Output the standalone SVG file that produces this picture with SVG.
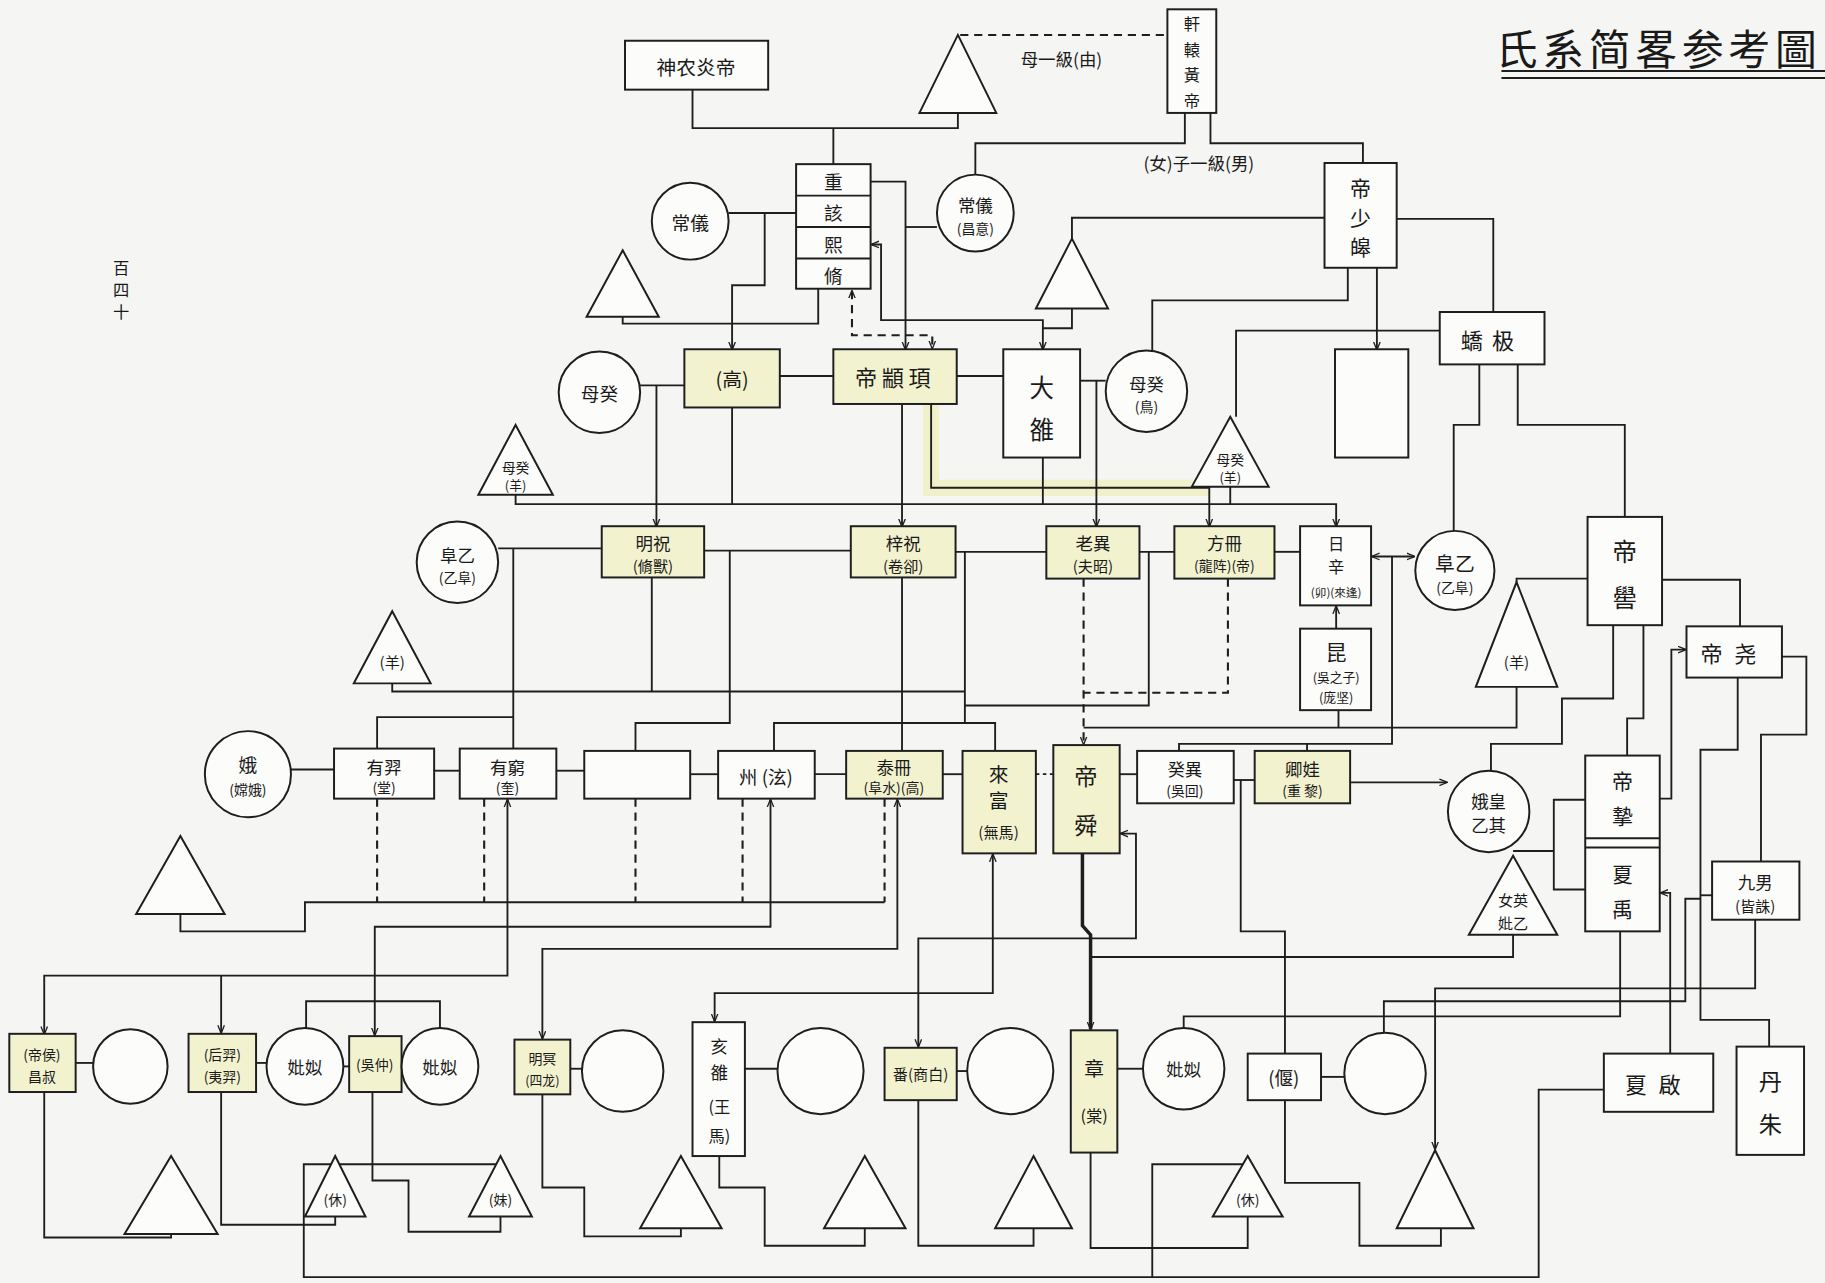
<svg xmlns="http://www.w3.org/2000/svg" width="1825" height="1283" viewBox="0 0 1825 1283">
<defs>
<style>
.b{fill:#fcfcfa;stroke:#1e1e1e;stroke-width:1.7}
.y{fill:#f3f2cf;stroke:#1e1e1e;stroke-width:1.7}
.c{fill:none;stroke:#1e1e1e;stroke-width:1.6}
.d{fill:none;stroke:#1e1e1e;stroke-width:1.8;stroke-dasharray:7 5}
.t{font-family:"Noto Sans CJK TC","Noto Sans CJK SC",sans-serif;fill:#1a1a1a;text-anchor:middle;dominant-baseline:central}
</style>
<marker id="a" viewBox="0 0 10 10" refX="9" refY="5" markerWidth="7" markerHeight="7" orient="auto-start-reverse" markerUnits="userSpaceOnUse"><path d="M0,1 L10,5 L0,9" fill="none" stroke="#1e1e1e" stroke-width="1.6"/></marker>
</defs>
<rect width="1825" height="1283" fill="#f5f5f3"/>
<g transform="scale(1.1639,1.1642)">
<g id="connectors">
<path class="c" d="M595,77 V110 H823 V97"/>
<path class="c" d="M716,110 V141"/>
<path class="d" d="M825,30 H1003"/>
<path class="c" d="M1018,97 V123 H838 V150"/>
<path class="c" d="M1040,97 V123 H1171 V140"/>
<path class="c" d="M626,183 H684"/>
<path class="c" d="M657,183 V245 H629 V300" marker-end="url(#a)"/>
<path class="c" d="M703,248 V278 H535 V272"/>
<path class="c" d="M748,156 H778 V300" marker-end="url(#a)"/>
<path class="c" d="M805,195 H778"/>
<path class="d" d="M732,250 V288 H801 V299" marker-start="url(#a)" marker-end="url(#a)"/>
<path class="c" d="M749,210 H757 V275 H896 V300" marker-start="url(#a)" marker-end="url(#a)"/>
<path class="c" d="M921,265 V282 H896"/>
<path class="c" d="M1138,187 H921 V205"/>
<path class="c" d="M1158,230 V258 H990 V301"/>
<path class="c" d="M1183,230 V300" marker-end="url(#a)"/>
<path class="c" d="M1237,284 H1062 V358"/>
<path class="c" d="M1200,188 H1283 V268"/>
<path class="c" d="M1271,313 V365 H1249 V456"/>
<path class="c" d="M1304,313 V365 H1396 V444"/>
<path class="c" d="M550,331 H588"/>
<path class="c" d="M564,331 V452" marker-end="url(#a)"/>
<path class="c" d="M670,323 H716"/>
<path class="c" d="M822,323 H862"/>
<path class="c" d="M928,327 H950"/>
<path d="M800,347 V419 H1039" fill="none" stroke="#eef0b8" stroke-width="14" opacity="0.7"/>
<path class="c" d="M942,327 V452" marker-end="url(#a)"/>
<path class="c" d="M629,350 V433"/>
<path class="c" d="M443,425 V433 H1148 V452" marker-end="url(#a)"/>
<path class="c" d="M775,347 V452" marker-end="url(#a)"/>
<path class="c" d="M800,347 V419 H1039 V452" marker-end="url(#a)"/>
<path class="c" d="M896,393 V433"/>
<path class="c" d="M1057,418 V433"/>
<path class="c" d="M1148,540 V521" marker-end="url(#a)"/>
<path class="c" d="M1179,478 H1215" marker-start="url(#a)" marker-end="url(#a)"/>
<path class="c" d="M1196,478 V639 H1013 V645"/>
<path class="c" d="M1123,639 V645"/>
<path class="c" d="M1364,497 H1303 V500"/>
<path class="c" d="M1428,498 H1495 V538"/>
<path class="c" d="M1386,537 V600 H1342 V639 H1281 V662"/>
<path class="c" d="M1412,537 V617 H1398 V649"/>
<path class="c" d="M428,471 H517"/>
<path class="c" d="M441,471 V643"/>
<path class="c" d="M605,473 H731"/>
<path class="c" d="M627,473 V621 H546 V645"/>
<path class="c" d="M821,474 H899"/>
<path class="c" d="M829,474 V621"/>
<path class="c" d="M979,474 H1009"/>
<path class="c" d="M987,474 V606 H829"/>
<path class="c" d="M1095,474 H1117"/>
<path class="c" d="M560,496 V594"/>
<path class="c" d="M775,496 V645"/>
<path class="c" d="M337,587 V594 H829"/>
<path class="c" d="M324,643 V616 H441"/>
<path class="c" d="M665,645 V621 H855 V645"/>
<path class="d" d="M931,497 V639" marker-end="url(#a)"/>
<path class="d" d="M1055,497 V595 H931"/>
<path class="c" d="M1150,610 V625"/>
<path class="c" d="M931,625 H1303 V590"/>
<path class="c" d="M250,661 H287"/>
<path class="c" d="M373,662 H395"/>
<path class="c" d="M478,662 H502"/>
<path class="c" d="M593,665 H617"/>
<path class="c" d="M700,665 H727"/>
<path class="c" d="M810,665 H827"/>
<path class="c" d="M890,665 H905" stroke-dasharray="3 3"/>
<path class="c" d="M962,665 H977"/>
<path class="c" d="M1060,670 H1078"/>
<path class="c" d="M1160,672 H1243" marker-end="url(#a)"/>
<path class="d" d="M324,686 V775"/>
<path class="d" d="M416,686 V775"/>
<path class="d" d="M546,686 V775"/>
<path class="d" d="M638,686 V775"/>
<path class="d" d="M760,686 V775"/>
<path class="c" d="M155,785 V800 H262 V775 H760"/>
<path class="c" d="M38,888 V838 H436 V687" marker-start="url(#a)" marker-end="url(#a)"/>
<path class="c" d="M190,838 V887" marker-end="url(#a)"/>
<path class="c" d="M322,889 V796 H662 V687" marker-start="url(#a)" marker-end="url(#a)"/>
<path class="c" d="M263,883 V860 H378 V883"/>
<path class="c" d="M466,892 V815 H771 V687" marker-start="url(#a)" marker-end="url(#a)"/>
<path class="c" d="M853,734 V853 H614 V877" marker-start="url(#a)" marker-end="url(#a)"/>
<path class="c" d="M963,716 H976 V806 H789 V899" marker-start="url(#a)" marker-end="url(#a)"/>
<path d="M930,733 V795 L937,803 V884" fill="none" stroke="#1e1e1e" stroke-width="3" marker-end="url(#a)"/>
<path class="c" d="M1300,803 V822 H937"/>
<path class="c" d="M1066,670 V800 H1104 V905"/>
<path class="c" d="M1392,800 V873 H1017 V883"/>
<path class="c" d="M1508,790 V849 H1233 V987" marker-end="url(#a)"/>
<path class="c" d="M1189,887 V860 H1448 V772 H1461"/>
<path class="c" d="M1493,582 V644 H1461 V876 H1520 V899"/>
<path class="c" d="M1531,564 H1552 V631 H1513 V740"/>
<path class="c" d="M1426,686 H1436 V558 H1448" marker-end="url(#a)"/>
<path class="c" d="M1427,767 H1435 V905" marker-start="url(#a)"/>
<path class="c" d="M1471,769 H1461"/>
<path class="c" d="M1362,687 H1335 V764 H1362"/>
<path class="c" d="M1300,731 H1335"/>
<path class="c" d="M1378,936 H1322 V1097 H261 V1000 H430"/>
<path class="c" d="M990,1097 V1000 H1072"/>
<path class="c" d="M65,913 H80"/>
<path class="c" d="M220,913 H229"/>
<path class="c" d="M295,916 H300"/>
<path class="c" d="M490,918 H500"/>
<path class="c" d="M640,918 H668"/>
<path class="c" d="M822,920 H831"/>
<path class="c" d="M960,918 H982"/>
<path class="c" d="M1135,925 H1155"/>
<path class="c" d="M38,938 V1063 H147 V1060"/>
<path class="c" d="M190,938 V1052 H288 V1045"/>
<path class="c" d="M320,938 V1014 H351 V1058 H430 V1045"/>
<path class="c" d="M466,940 V1020 H502 V1062 H585 V1055"/>
<path class="c" d="M618,993 V1020 H657 V1070 H743 V1055"/>
<path class="c" d="M789,945 V1070 H888 V1055"/>
<path class="c" d="M937,990 V1072 H1072 V1045"/>
<path class="c" d="M1104,945 V1016 H1168 V1070 H1238 V1055"/>
<path class="c" d="M128,1032 H168" stroke-dasharray="5 7"/>
</g>
<g id="n-title">
<text class="t" x="1425" y="40" font-size="36" letter-spacing="4">氏系简畧参考圖</text>
<path class="c" d="M1290,61 H1568 M1290,67 H1568" stroke-width="2"/>
</g>
<g id="n-page"><text class="t" x="104" y="229" font-size="14">百</text><text class="t" x="104" y="248" font-size="14">四</text><text class="t" x="104" y="267" font-size="14">十</text></g>
<g id="n-lab1"><text class="t" x="912" y="50" font-size="15">母一級(由)</text></g>
<g id="n-lab2"><text class="t" x="1030" y="140" font-size="15">(女)子一級(男)</text></g>
<g id="n-shennong"><rect class="b" x="537" y="35" width="123" height="42"/><text class="t" x="598" y="57" font-size="17">神农炎帝</text></g>
<g id="n-xuanyuan"><rect class="b" x="1003" y="8" width="42" height="89"/><text class="t" x="1024" y="20" font-size="14">軒</text><text class="t" x="1024" y="42" font-size="14">轅</text><text class="t" x="1024" y="64" font-size="14">黃</text><text class="t" x="1024" y="86" font-size="14">帝</text></g>
<g id="n-zhong"><rect class="b" x="684" y="141" width="64" height="107"/><path class="c" d="M684,168 H748 M684,195 H748 M684,222 H748"/><text class="t" x="716" y="155" font-size="16">重</text><text class="t" x="716" y="182" font-size="16">該</text><text class="t" x="716" y="209" font-size="16">熙</text><text class="t" x="716" y="236" font-size="16">脩</text></g>
<g id="n-shaohao"><rect class="b" x="1138" y="140" width="62" height="90"/><text class="t" x="1169" y="161" font-size="18">帝</text><text class="t" x="1169" y="186" font-size="18">少</text><text class="t" x="1169" y="211" font-size="18">皞</text></g>
<g id="n-jiaoji"><rect class="b" x="1237" y="268" width="90" height="45"/><text class="t" x="1282" y="291" font-size="19" letter-spacing="8">蟜极</text></g>
<g id="n-emptyA"><rect class="b" x="1147" y="300" width="63" height="93"/></g>
<g id="n-gao"><rect class="y" x="588" y="300" width="82" height="50"/><text class="t" x="629" y="325" font-size="17">(高)</text></g>
<g id="n-zhuanxu"><rect class="y" x="716" y="300" width="106" height="47"/><text class="t" x="769" y="323" font-size="19" letter-spacing="4">帝顓頊</text></g>
<g id="n-daye"><rect class="b" x="862" y="300" width="66" height="93"/><text class="t" x="895" y="332" font-size="21">大</text><text class="t" x="895" y="368" font-size="21">雒</text></g>
<g id="n-mingzhu"><rect class="y" x="517" y="452" width="88" height="44"/><text class="t" x="561" y="466" font-size="15">明祝</text><text class="t" x="561" y="485" font-size="13">(脩獸)</text></g>
<g id="n-zizhu"><rect class="y" x="731" y="452" width="90" height="44"/><text class="t" x="776" y="466" font-size="15">梓祝</text><text class="t" x="776" y="485" font-size="13">(卷卻)</text></g>
<g id="n-laoyi"><rect class="y" x="899" y="452" width="80" height="45"/><text class="t" x="939" y="466" font-size="15">老異</text><text class="t" x="939" y="485" font-size="13">(夫昭)</text></g>
<g id="n-fangce"><rect class="y" x="1009" y="452" width="86" height="45"/><text class="t" x="1052" y="466" font-size="15">方冊</text><text class="t" x="1052" y="485" font-size="12">(龍阵)(帝)</text></g>
<g id="n-rixin"><rect class="b" x="1117" y="452" width="61" height="68"/><text class="t" x="1148" y="466" font-size="14">日</text><text class="t" x="1148" y="486" font-size="14">辛</text><text class="t" x="1148" y="508" font-size="10">(卯)(來逢)</text></g>
<g id="n-kun"><rect class="b" x="1117" y="540" width="61" height="70"/><text class="t" x="1148" y="559" font-size="18">昆</text><text class="t" x="1148" y="581" font-size="11">(吳之子)</text><text class="t" x="1148" y="598" font-size="11">(庞坚)</text></g>
<g id="n-diku"><rect class="b" x="1364" y="444" width="64" height="93"/><text class="t" x="1396" y="473" font-size="21">帝</text><text class="t" x="1396" y="512" font-size="21">嚳</text></g>
<g id="n-diyao"><rect class="b" x="1449" y="538" width="82" height="44"/><text class="t" x="1490" y="560" font-size="19" letter-spacing="10">帝尧</text></g>
<g id="n-youyi"><rect class="b" x="287" y="643" width="86" height="43"/><text class="t" x="330" y="658" font-size="15">有羿</text><text class="t" x="330" y="676" font-size="12">(堂)</text></g>
<g id="n-youqiong"><rect class="b" x="395" y="643" width="83" height="43"/><text class="t" x="436" y="658" font-size="15">有窮</text><text class="t" x="436" y="676" font-size="12">(奎)</text></g>
<g id="n-emptyB"><rect class="b" x="502" y="645" width="91" height="41"/></g>
<g id="n-zhou"><rect class="b" x="617" y="645" width="83" height="41"/><text class="t" x="658" y="666" font-size="16">州 (泫)</text></g>
<g id="n-taice"><rect class="y" x="727" y="645" width="83" height="41"/><text class="t" x="768" y="658" font-size="15">泰冊</text><text class="t" x="768" y="676" font-size="12">(阜水)(高)</text></g>
<g id="n-laifu"><rect class="y" x="827" y="645" width="63" height="88"/><text class="t" x="858" y="664" font-size="17">來</text><text class="t" x="858" y="687" font-size="17">富</text><text class="t" x="858" y="714" font-size="13">(無馬)</text></g>
<g id="n-dishun"><rect class="y" x="905" y="640" width="57" height="93"/><text class="t" x="933" y="666" font-size="20">帝</text><text class="t" x="933" y="708" font-size="20">舜</text></g>
<g id="n-guiyi"><rect class="b" x="977" y="645" width="83" height="45"/><text class="t" x="1018" y="660" font-size="15">癸異</text><text class="t" x="1018" y="679" font-size="12">(吳回)</text></g>
<g id="n-qingwa"><rect class="y" x="1078" y="645" width="82" height="45"/><text class="t" x="1119" y="660" font-size="15">卿娃</text><text class="t" x="1119" y="679" font-size="12">(重 黎)</text></g>
<g id="n-dizhi"><rect class="b" x="1362" y="649" width="64" height="151"/><path class="c" d="M1362,720 H1426 M1362,728 H1426"/><text class="t" x="1394" y="670" font-size="18">帝</text><text class="t" x="1394" y="700" font-size="18">摯</text><text class="t" x="1394" y="750" font-size="18">夏</text><text class="t" x="1394" y="780" font-size="18">禹</text></g>
<g id="n-jiunan"><rect class="b" x="1471" y="740" width="75" height="50"/><text class="t" x="1508" y="757" font-size="15">九男</text><text class="t" x="1508" y="777" font-size="13">(皆誅)</text></g>
<g id="n-dihou"><rect class="y" x="8" y="888" width="57" height="50"/><text class="t" x="36" y="905" font-size="12">(帝侯)</text><text class="t" x="36" y="924" font-size="12">昌叔</text></g>
<g id="n-houyi"><rect class="y" x="162" y="888" width="58" height="50"/><text class="t" x="191" y="905" font-size="12">(后羿)</text><text class="t" x="191" y="924" font-size="12">(夷羿)</text></g>
<g id="n-wuzhong"><rect class="y" x="300" y="890" width="45" height="48"/><text class="t" x="322" y="914" font-size="12">(吳仲)</text></g>
<g id="n-mingming"><rect class="y" x="442" y="893" width="48" height="47"/><text class="t" x="466" y="909" font-size="12">明冥</text><text class="t" x="466" y="927" font-size="11">(四龙)</text></g>
<g id="n-haiyi"><rect class="b" x="595" y="878" width="45" height="115"/><text class="t" x="618" y="898" font-size="15">亥</text><text class="t" x="618" y="920" font-size="15">雒</text><text class="t" x="618" y="950" font-size="14">(王</text><text class="t" x="618" y="975" font-size="14">馬)</text></g>
<g id="n-fan"><rect class="y" x="760" y="900" width="62" height="45"/><text class="t" x="791" y="922" font-size="13">番(商白)</text></g>
<g id="n-zhang"><rect class="y" x="920" y="885" width="40" height="105"/><text class="t" x="940" y="917" font-size="17">章</text><text class="t" x="940" y="958" font-size="14">(棠)</text></g>
<g id="n-yan"><rect class="b" x="1072" y="905" width="63" height="40"/><text class="t" x="1103" y="925" font-size="16">(偃)</text></g>
<g id="n-xiaqi"><rect class="b" x="1378" y="905" width="94" height="50"/><text class="t" x="1425" y="930" font-size="19" letter-spacing="10">夏啟</text></g>
<g id="n-danzhu"><rect class="b" x="1492" y="899" width="58" height="93"/><text class="t" x="1521" y="928" font-size="20">丹</text><text class="t" x="1521" y="965" font-size="20">朱</text></g>
<g id="n-changyi1"><circle class="b" cx="593" cy="190" r="33"/><text class="t" x="593" y="190" font-size="16">常儀</text></g>
<g id="n-changyi2"><circle class="b" cx="838" cy="183" r="33"/><text class="t" x="838" y="176" font-size="15">常儀</text><text class="t" x="838" y="196" font-size="12">(昌意)</text></g>
<g id="n-mugui1"><circle class="b" cx="515" cy="337" r="35"/><text class="t" x="515" y="337" font-size="16">母癸</text></g>
<g id="n-mugui2"><circle class="b" cx="985" cy="336" r="35"/><text class="t" x="985" y="329" font-size="15">母癸</text><text class="t" x="985" y="349" font-size="12">(鳥)</text></g>
<g id="n-fuyi1"><circle class="b" cx="393" cy="483" r="35"/><text class="t" x="393" y="476" font-size="15">阜乙</text><text class="t" x="393" y="496" font-size="12">(乙阜)</text></g>
<g id="n-fuyi2"><circle class="b" cx="1250" cy="490" r="34"/><text class="t" x="1250" y="483" font-size="17">阜乙</text><text class="t" x="1250" y="504" font-size="12">(乙阜)</text></g>
<g id="n-e"><circle class="b" cx="213" cy="665" r="37"/><text class="t" x="213" y="656" font-size="16">娥</text><text class="t" x="213" y="678" font-size="12">(嫦娥)</text></g>
<g id="n-ehuang"><circle class="b" cx="1279" cy="697" r="35"/><text class="t" x="1279" y="688" font-size="15">娥皇</text><text class="t" x="1279" y="708" font-size="15">乙其</text></g>
<g id="n-o1"><circle class="b" cx="112" cy="916" r="32"/></g>
<g id="n-o2"><circle class="b" cx="535" cy="920" r="35"/></g>
<g id="n-o3"><circle class="b" cx="705" cy="920" r="37"/></g>
<g id="n-o4"><circle class="b" cx="868" cy="920" r="37"/></g>
<g id="n-o5"><circle class="b" cx="1190" cy="922" r="35"/></g>
<g id="n-bisi1"><circle class="b" cx="262" cy="916" r="33"/><text class="t" x="262" y="916" font-size="15">妣姒</text></g>
<g id="n-bisi2"><circle class="b" cx="378" cy="916" r="33"/><text class="t" x="378" y="916" font-size="15">妣姒</text></g>
<g id="n-bisi3"><circle class="b" cx="1017" cy="918" r="35"/><text class="t" x="1017" y="918" font-size="15">妣姒</text></g>
<g id="n-t1"><path class="b" d="M823,30 L856,97 L790,97 Z"/></g>
<g id="n-t2"><path class="b" d="M535,215 L566,272 L504,272 Z"/></g>
<g id="n-t3"><path class="b" d="M921,205 L952,265 L890,265 Z"/></g>
<g id="n-tmg1"><path class="b" d="M443,365 L475,425 L411,425 Z"/><text class="t" x="443" y="401" font-size="12">母癸</text><text class="t" x="443" y="416" font-size="11">(羊)</text></g>
<g id="n-tmg2"><path class="b" d="M1057,358 L1090,418 L1024,418 Z"/><text class="t" x="1057" y="394" font-size="12">母癸</text><text class="t" x="1057" y="409" font-size="11">(羊)</text></g>
<g id="n-ty1"><path class="b" d="M337,525 L370,587 L304,587 Z"/><text class="t" x="337" y="568" font-size="13">(羊)</text></g>
<g id="n-ty2"><path class="b" d="M1303,500 L1338,590 L1268,590 Z"/><text class="t" x="1303" y="568" font-size="13">(羊)</text></g>
<g id="n-tbig"><path class="b" d="M155,718 L193,785 L117,785 Z"/></g>
<g id="n-tnv"><path class="b" d="M1300,735 L1338,803 L1262,803 Z"/><text class="t" x="1300" y="772" font-size="13">女英</text><text class="t" x="1300" y="792" font-size="13">妣乙</text></g>
<g id="n-tb1"><path class="b" d="M147,993 L187,1060 L107,1060 Z"/></g>
<g id="n-txiu1"><path class="b" d="M288,993 L314,1045 L262,1045 Z"/><text class="t" x="288" y="1030" font-size="12">(休)</text></g>
<g id="n-tmei"><path class="b" d="M430,993 L457,1045 L403,1045 Z"/><text class="t" x="430" y="1030" font-size="12">(妹)</text></g>
<g id="n-tb2"><path class="b" d="M585,993 L620,1055 L550,1055 Z"/></g>
<g id="n-tb3"><path class="b" d="M743,993 L778,1055 L708,1055 Z"/></g>
<g id="n-tb4"><path class="b" d="M888,993 L921,1055 L855,1055 Z"/></g>
<g id="n-txiu2"><path class="b" d="M1072,993 L1102,1045 L1042,1045 Z"/><text class="t" x="1072" y="1030" font-size="12">(休)</text></g>
<g id="n-tb5"><path class="b" d="M1233,988 L1266,1055 L1200,1055 Z"/></g>
</g>
</svg>
